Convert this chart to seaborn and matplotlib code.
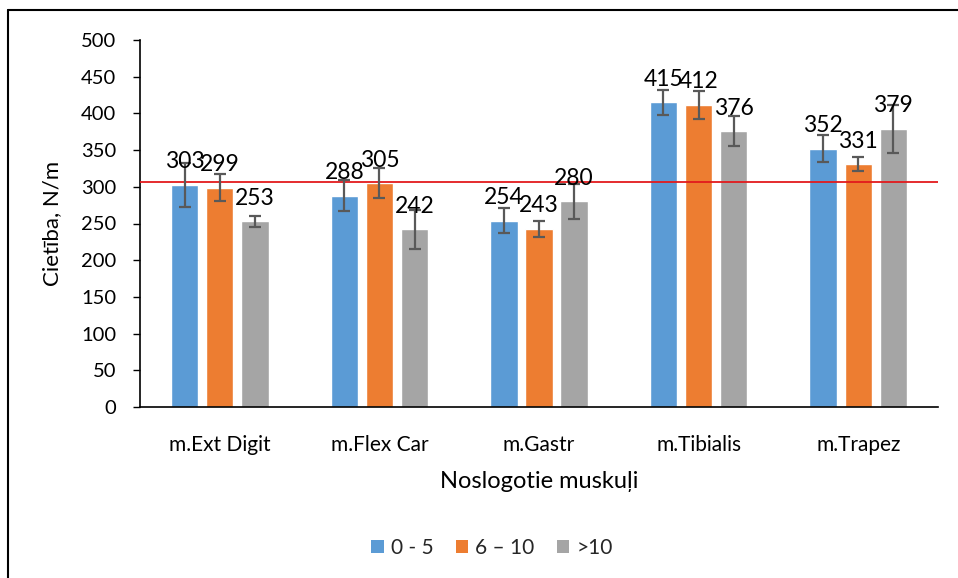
import matplotlib
matplotlib.use("Agg")
import matplotlib.pyplot as plt
from matplotlib.lines import Line2D
from matplotlib.patches import Patch
import seaborn as sns
import pandas as pd
import numpy as np

categories = ["m.Ext Digit", "m.Flex Car", "m.Gastr", "m.Tibialis", "m.Trapez"]
groups = ["0 - 5", "6 \u2013 10", ">10"]
vals_0_5 = [303, 288, 254, 415, 352]
vals_6_10 = [299, 305, 243, 412, 331]
vals_gt10 = [253, 242, 280, 376, 379]
err_0_5 = [30, 21, 17, 17, 18]
err_6_10 = [18, 20, 11, 19, 9]
err_gt10 = [7.5, 27, 24, 21, 33]
ref_line = 307
colors = ["#5B9BD5", "#ED7D31", "#A5A5A5"]

values = [vals_0_5, vals_6_10, vals_gt10]
errors = [err_0_5, err_6_10, err_gt10]
df = pd.DataFrame({
    "cat": [c for g in groups for c in categories],
    "grp": [g for g in groups for c in categories],
    "val": [v for vs in values for v in vs],
})

sns.set_theme(style="white")
plt.rcParams["font.family"] = ["Lato", "DejaVu Sans"]

fig = plt.figure(figsize=(9.58, 5.78), dpi=100)
ax = fig.add_axes([140 / 958, 1 - 407 / 578, (938 - 140) / 958, (407 - 40) / 578])

sns.barplot(data=df, x="cat", y="val", hue="grp", order=categories, hue_order=groups,
            palette=colors, width=0.66, gap=0.22, errorbar=None, ax=ax, legend=False,
            saturation=1)

for cont, errs in zip(ax.containers, errors):
    xs = [b.get_x() + b.get_width() / 2 for b in cont]
    hs = [b.get_height() for b in cont]
    ax.errorbar(xs, hs, yerr=errs, fmt="none", ecolor="#595959", elinewidth=1.6,
                capsize=4.3, capthick=1.6, zorder=4)
    for x, h in zip(xs, hs):
        ax.annotate(f"{int(h)}", (x, h), xytext=(0, 9), textcoords="offset points",
                    ha="center", va="bottom", fontsize=16.5, color="black", zorder=5)

ax.axhline(ref_line, color="#E31A1C", lw=1.3, zorder=3)

ax.set_ylim(0, 500)
ax.set_yticks(np.arange(0, 501, 50))
ax.set_xlim(-0.5, 4.5)
ax.tick_params(axis="y", which="both", left=True, length=5, width=1, direction="out",
               labelsize=14.5, colors="black", pad=12)
ax.tick_params(axis="x", bottom=False, labelsize=15, colors="black", pad=14)
for s in ["top", "right"]:
    ax.spines[s].set_visible(False)
for s in ["left", "bottom"]:
    ax.spines[s].set_visible(True)
    ax.spines[s].set_color("black")
    ax.spines[s].set_linewidth(1.2)
ax.set_ylabel("Cietība, N/m", fontsize=16, color="black", labelpad=14)
ax.set_xlabel("Noslogotie muskuļi", fontsize=17, color="black", labelpad=12)

handles = [Patch(facecolor=c, edgecolor="none") for c in colors]
fig.legend(handles, groups, loc="center", bbox_to_anchor=(492 / 958, 1 - 548 / 578), ncol=3,
           frameon=False, fontsize=15, handlelength=0.6, handleheight=0.6,
           handletextpad=0.35, columnspacing=1.05)

fig.add_artist(Line2D([8 / 958, 8 / 958], [0, 1 - 10 / 578], transform=fig.transFigure,
                      color="black", lw=1.5))
fig.add_artist(Line2D([8 / 958, 1], [1 - 10 / 578, 1 - 10 / 578], transform=fig.transFigure,
                      color="black", lw=1.5))

fig.savefig("out.png", dpi=100)
